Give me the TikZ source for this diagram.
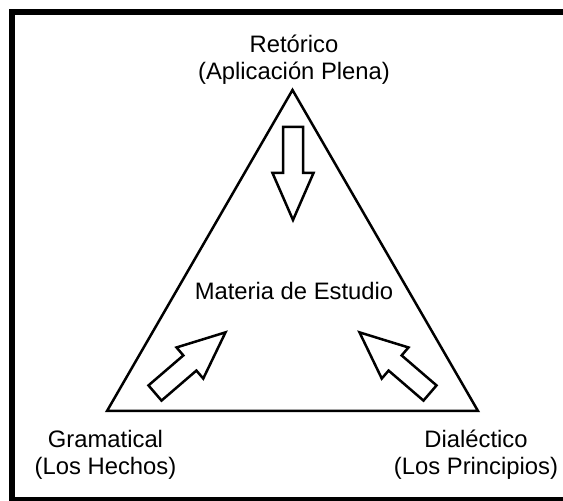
\documentclass[tikz,border=0pt]{standalone}
\usepackage{fontspec}
\setmainfont{Liberation Sans}
\tikzset{
  corner text/.style={align=center, anchor=base, inner sep=0pt,
    font=\fontsize{23.8}{27}\selectfont},
  block arrow/.style={draw, line width=2.5pt, fill=white},
}
\begin{document}
\begin{tikzpicture}[x=1pt,y=1pt]
\useasboundingbox (0,0) rectangle (563,501);
% frame (open on the right, as cut off)
\draw[line width=6pt] (575,1) -- (12,1) -- (12,489) -- (575,489);
% triangle
\coordinate (top) at (292.5,411);
\coordinate (left) at (107,90);
\coordinate (right) at (478,90);
\draw[line width=2.5pt] (top) -- (left) -- (right) -- cycle;
% arrows
\foreach \x/\y/\a in {293/374/-90, 155/108/40.7, 430/108/139.3}
  \draw[block arrow, shift={(\x,\y)}, rotate=\a]
    (0,-10) -- (46,-10) -- (46,-20.5) -- (93,0) -- (46,20.5) -- (46,10) -- (0,10) -- cycle;
% texts
\node[corner text] (retorico) at (294,421) {Retórico\\(Aplicación Plena)};
\node[corner text] (materia) at (294,201) {Materia de Estudio};
\node[corner text] (gramatical) at (105.5,26) {Gramatical\\(Los Hechos)};
\node[corner text] (dialectico) at (476,26) {Dialéctico\\(Los Principios)};
\end{tikzpicture}
\end{document}
